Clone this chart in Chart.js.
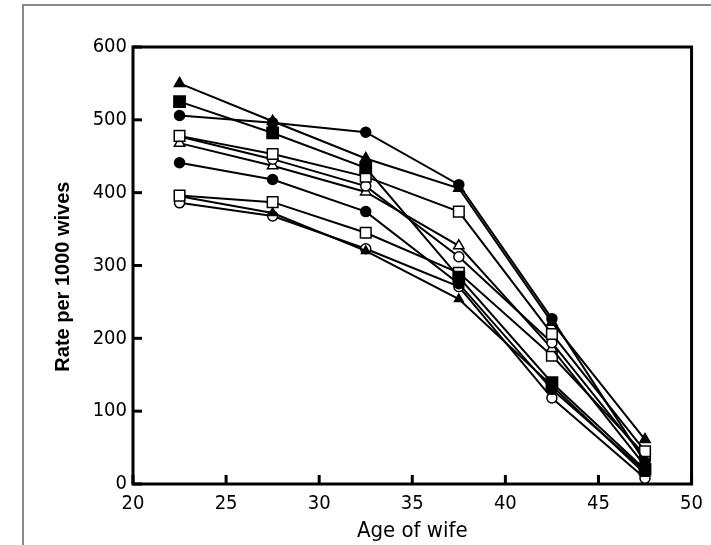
<!DOCTYPE html>
<html>
<head>
<meta charset="utf-8">
<script src="https://cdn.jsdelivr.net/npm/chart.js@4.4.1/dist/chart.umd.min.js"></script>
<style>
  html, body { margin: 0; padding: 0; background: #fff; }
  #wrap { position: relative; width: 711px; height: 545px; overflow: hidden; }
  #frame { position: absolute; left: 22px; top: 4px; width: 760px; height: 600px;
           border-left: 2px solid #8a8a8a; border-top: 2px solid #8a8a8a; box-sizing: border-box; }
  canvas { position: absolute; left: 0; top: 0; }
</style>
</head>
<body>
<div id="wrap">
  <div id="frame"></div>
  <canvas id="c" width="711" height="545"></canvas>
</div>
<script>
// ---- data ----
const ages = [22.5, 27.5, 32.5, 37.5, 42.5, 47.5];
const xTicks = [20, 25, 30, 35, 40, 45, 50];
const yTicks = [0, 100, 200, 300, 400, 500, 600];
const triFilledHigh = [550, 498, 447, 406, 222, 61];
const circFilledHigh = [506, 496, 483, 411, 227, 30];
const sqFilled = [525, 482, 434, 284, 139, 20];
const sqOpenHigh = [478, 453, 422, 374, 206, 45];
const circOpenHigh = [477, 446, 409, 312, 194, 35];
const triOpen = [468, 437, 401, 327, 186, 25];
const circFilledMid = [441, 418, 374, 275, 130, 18];
const sqOpenLow = [396, 387, 345, 290, 176, 40];
const triFilledLow = [395, 372, 320, 254, 135, 14];
const circOpenLow = [386, 368, 323, 271, 118, 8];

const seriesList = [
  { data: triFilledHigh, style: 'triangle', filled: true, r: 6 },
  { data: circFilledHigh, style: 'circle', filled: true, r: 5 },
  { data: sqFilled, style: 'rect', filled: true, r: 8 },
  { data: sqOpenHigh, style: 'rect', filled: false, r: 7.5 },
  { data: circOpenHigh, style: 'circle', filled: false, r: 5 },
  { data: triOpen, style: 'triangle', filled: false, r: 6 },
  { data: circFilledMid, style: 'circle', filled: true, r: 5 },
  { data: sqOpenLow, style: 'rect', filled: false, r: 7.5 },
  { data: triFilledLow, style: 'triangle', filled: true, r: 5 },
  { data: circOpenLow, style: 'circle', filled: false, r: 5 }
];

const datasets = seriesList.map(s => ({
  data: ages.map((a, i) => ({ x: a, y: s.data[i] })),
  borderColor: '#000',
  borderWidth: 2,
  pointStyle: s.style,
  pointRadius: s.r,
  pointBorderWidth: 1.5,
  pointBackgroundColor: s.filled ? '#000' : '#fff',
  pointBorderColor: '#000',
  tension: 0,
  fill: false
}));

const narrow = "'DejaVu Sans Condensed', 'Liberation Sans', Arial, sans-serif";
const tickFont = { family: narrow, size: 20 };

const boxPlugin = {
  id: 'box',
  beforeDatasetsDraw(chart) {
    const { ctx, chartArea: a, scales } = chart;
    ctx.save();
    ctx.strokeStyle = '#000';
    ctx.lineWidth = 3;
    ctx.strokeRect(a.left, a.top, a.right - a.left, a.bottom - a.top);
    const len = 9;
    xTicks.forEach(v => {
      const px = scales.x.getPixelForValue(v);
      ctx.beginPath(); ctx.moveTo(px, a.bottom); ctx.lineTo(px, a.bottom - len); ctx.stroke();
    });
    yTicks.forEach(v => {
      const py = scales.y.getPixelForValue(v);
      ctx.beginPath(); ctx.moveTo(a.left, py); ctx.lineTo(a.left + len, py); ctx.stroke();
    });
    ctx.restore();
  }
};

new Chart(document.getElementById('c'), {
  type: 'line',
  data: { datasets },
  plugins: [boxPlugin],
  options: {
    responsive: false,
    animation: false,
    devicePixelRatio: 1,
    layout: { padding: { left: 0, top: 47, right: 18, bottom: 0 } },
    plugins: { legend: { display: false }, tooltip: { enabled: false } },
    scales: {
      x: {
        type: 'linear', min: 20, max: 50,
        afterFit: s => { s.height = 61; },
        afterBuildTicks: s => { s.ticks = xTicks.map(v => ({ value: v })); },
        grid: { display: false, drawTicks: false },
        border: { display: false },
        ticks: { color: '#000', font: tickFont, padding: 8, autoSkip: false, maxRotation: 0 },
        title: { display: true, text: 'Age of wife', color: '#000',
                 font: { family: narrow, size: 22 },
                 padding: { top: 0, bottom: 1 } }
      },
      y: {
        type: 'linear', min: 0, max: 600,
        afterFit: s => { s.width = 133; },
        afterBuildTicks: s => { s.ticks = yTicks.map(v => ({ value: v })); },
        grid: { display: false, drawTicks: false },
        border: { display: false },
        ticks: { color: '#000', font: tickFont, padding: 6, autoSkip: false },
        title: { display: true, text: 'Rate per 1000 wives\u00a0\u00a0\u00a0\u00a0', color: '#000',
                 font: { family: "'Liberation Sans', Arial, sans-serif", size: 20, weight: 'bold' },
                 padding: { top: 51, bottom: 0 } }
      }
    }
  }
});
</script>
</body>
</html>
